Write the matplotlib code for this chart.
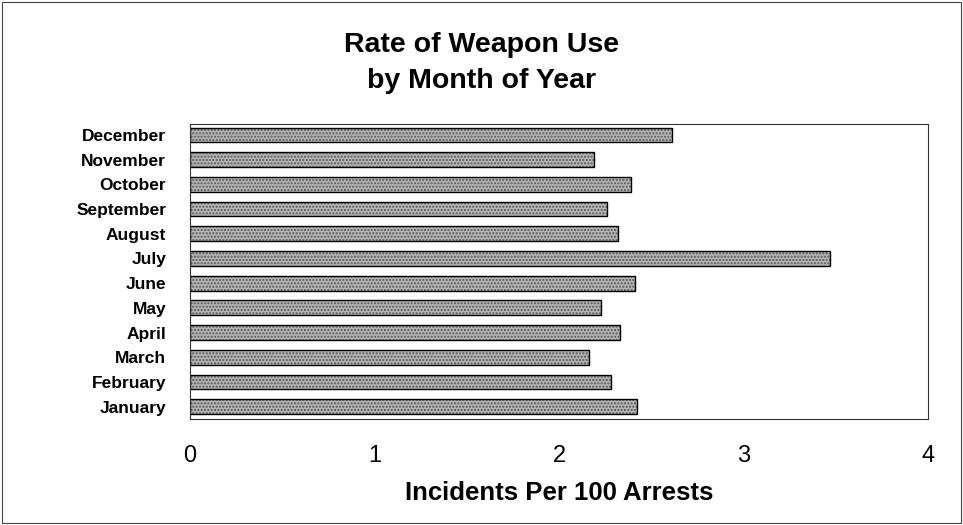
import matplotlib.pyplot as plt
from matplotlib.patches import Rectangle

# %% Data
months = ['January', 'February', 'March', 'April', 'May', 'June',
          'July', 'August', 'September', 'October', 'November', 'December']
rates = [2.42, 2.28, 2.16, 2.33, 2.23, 2.41,
         3.47, 2.32, 2.26, 2.39, 2.19, 2.61]
x_ticks = [0, 1, 2, 3, 4]

plt.rcParams['font.family'] = ['Liberation Sans', 'DejaVu Sans']

# %% Create plot
fig = plt.figure(figsize=(9.63, 5.25), dpi=100)
ax = fig.add_axes([0.197, 0.202, 0.767, 0.562])

ypos = list(range(len(months)))

# Dotted gray fill, then a black outline on top
ax.barh(ypos, rates, height=0.6, left=0, color='#b4b4b4',
        hatch='.....', edgecolor='#555555', linewidth=0)
ax.barh(ypos, rates, height=0.6, left=0, facecolor='none',
        edgecolor='black', linewidth=1.0)

ax.set_xlim(0, 4)
ax.set_ylim(-0.5, 11.45)
ax.set_xticks(x_ticks)
ax.set_xticklabels([str(t) for t in x_ticks], fontsize=17)
ax.set_yticks(ypos)
ax.set_yticklabels(months, fontsize=12.5, fontweight='bold')
ax.tick_params(axis='both', length=0)
ax.tick_params(axis='x', pad=19)
ax.tick_params(axis='y', pad=17)

for sp in ax.spines.values():
    sp.set_linewidth(0.8)
    sp.set_color('#333333')

ax.set_xlabel('Incidents Per 100 Arrests', fontsize=18.5, fontweight='bold',
              labelpad=10)

fig.text(0.5, 0.914, 'Rate of Weapon Use', ha='center', va='center',
         fontsize=20.5, fontweight='bold')
fig.text(0.5, 0.846, 'by Month of Year', ha='center', va='center',
         fontsize=20.5, fontweight='bold')

# Thin frame around the whole figure
fig.patches.append(Rectangle((0.002, 0.004), 0.996, 0.992, transform=fig.transFigure,
                             fill=False, edgecolor='#444444', linewidth=0.8))

fig.savefig('out.png', dpi=100)
